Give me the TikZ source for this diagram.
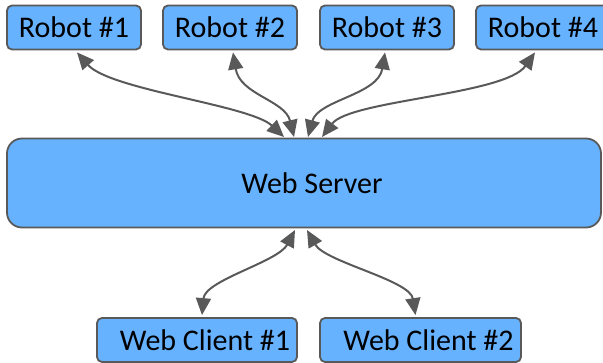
\documentclass[tikz,border=0pt]{standalone}
\usepackage{fontspec}
\setmainfont{Carlito}
\usetikzlibrary{arrows.meta}
\definecolor{boxfill}{HTML}{66B2FF}
\definecolor{edge}{HTML}{595959}
\tikzset{
  box/.style={draw=edge, line width=1.8pt, fill=boxfill, rounded corners=5pt,
    inner sep=0pt, font=\fontsize{30}{33}\selectfont},
  link/.style={draw=edge, line width=2pt, {Triangle[length=17pt,width=15pt]}-{Triangle[length=17pt,width=15pt]}}
}
\begin{document}
\begin{tikzpicture}[x=1pt,y=-1pt]
\useasboundingbox (0,0) rectangle (603,363);
\node[box, minimum width=134pt, minimum height=44pt] (r1) at (74,27.5) {Robot \#1};
\node[box, minimum width=134pt, minimum height=44pt] (r2) at (230,27.5) {Robot \#2};
\node[box, minimum width=134pt, minimum height=44pt] (r3) at (387,27.5) {Robot \#3};
\node[box, minimum width=134pt, minimum height=44pt] (r4) at (543,27.5) {Robot \#4};
\node[box, rounded corners=15pt, minimum width=594pt, minimum height=89pt] (srv) at (304,183) {\hspace*{16pt}Web Server};
\node[box, minimum width=200pt, minimum height=44pt] (c1) at (197,340) {\hspace*{16pt}Web Client \#1};
\node[box, minimum width=201pt, minimum height=44pt] (c2) at (420.5,340) {\hspace*{16pt}Web Client \#2};
\coordinate (s1) at (284,137);
\coordinate (s2) at (294,137);
\coordinate (s3) at (308,137);
\coordinate (s4) at (322,137);
\coordinate (b1) at (295,230);
\coordinate (b2) at (307,230);
\draw[link] ([xshift=3pt,yshift=-2pt]r1.south) .. controls (110,90) and (250,105) .. (s1);
\draw[link] ([xshift=3pt,yshift=-2pt]r2.south) .. controls (240,95) and (285,100) .. (s2);
\draw[link] ([xshift=-2pt,yshift=-2pt]r3.south) .. controls (378,95) and (318,100) .. (s3);
\draw[link] ([xshift=-8pt,yshift=-2pt]r4.south) .. controls (505,95) and (350,100) .. (s4);
\draw[link] (b1) .. controls (278,262) and (205,280) .. ([xshift=5pt,yshift=2pt]c1.north);
\draw[link] (b2) .. controls (325,262) and (410,280) .. ([xshift=-5pt,yshift=2pt]c2.north);
\end{tikzpicture}
\end{document}
